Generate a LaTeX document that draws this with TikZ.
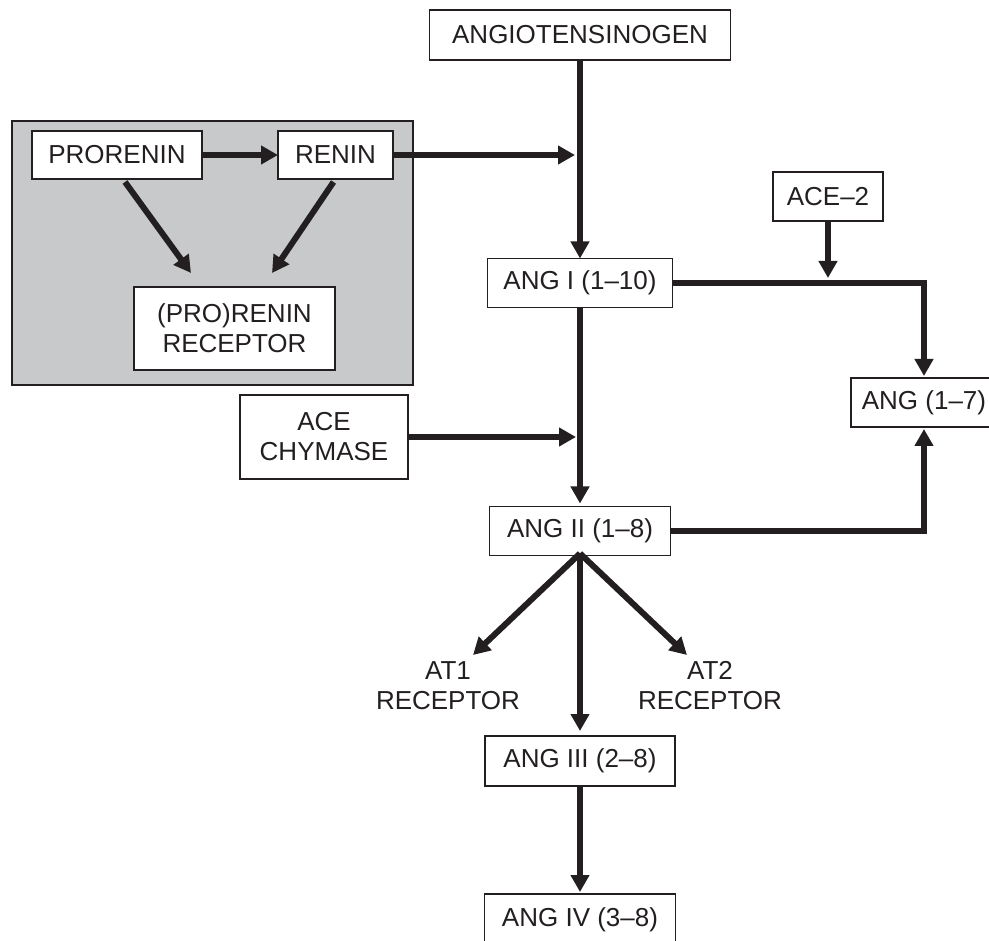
\documentclass[tikz,border=0pt]{standalone}
\usepackage{fontspec}
\setmainfont{Liberation Sans}
\usetikzlibrary{arrows.meta}
\definecolor{ink}{RGB}{35,31,32}
\definecolor{panelgray}{RGB}{200,201,203}
\newcommand\diagfont{\fontsize{26}{30}\selectfont}
\begin{document}
\begin{tikzpicture}[x=1pt,y=-1pt,
  box/.style={draw=ink,line width=1.4pt,fill=white,inner sep=0pt,outer sep=0pt,
    font=\diagfont,text=ink,align=center},
  lbl/.style={inner sep=0pt,outer sep=0pt,font=\diagfont,text=ink,align=center},
  panel/.style={draw=ink,line width=1.8pt,fill=panelgray,inner sep=0pt,outer sep=0pt},
  arr/.style={draw=ink,line width=6pt,-{Triangle[length=17pt,width=18pt]}}
]
\useasboundingbox (0,0) rectangle (989,941);
\clip (0,0) rectangle (989,941);

% grey panel
\node[panel,minimum width=401pt,minimum height=264pt] (grp) at (212.5,253) {};

% nodes
\node[box,minimum width=301pt,minimum height=50pt] (angio) at (580,35) {ANGIOTENSINOGEN};
\node[box,minimum width=170pt,minimum height=48pt] (prorenin) at (117,155) {PRORENIN};
\node[box,minimum width=115pt,minimum height=48pt] (renin) at (335.5,155) {RENIN};
\node[box,minimum width=201pt,minimum height=83pt] (prr) at (234.5,328.5) {(PRO)RENIN\\RECEPTOR};
\node[box,minimum width=185pt,minimum height=49pt] (ang1) at (580,283) {ANG I (1--10)};
\node[box,minimum width=110pt,minimum height=49pt] (ace2) at (828,196.5) {ACE--2};
\node[box,minimum width=146pt,minimum height=49pt] (ang17) at (924,402.5) {ANG (1--7)};
\node[box,minimum width=168pt,minimum height=84pt] (acech) at (324,437) {ACE\\CHYMASE};
\node[box,minimum width=181pt,minimum height=49pt] (ang2) at (580,531) {ANG II (1--8)};
\node[lbl] (at1) at (448,686) {AT1\\RECEPTOR};
\node[lbl] (at2) at (710,686) {AT2\\RECEPTOR};
\node[box,minimum width=190pt,minimum height=50pt] (ang3) at (580,761) {ANG III (2--8)};
\node[box,minimum width=191pt,minimum height=52pt] (ang4) at (580,920) {ANG IV (3--8)};

% junction points on the main pathway
\coordinate (j1) at (575,155);
\coordinate (j2) at (828,278);
\coordinate (j3) at (576,437);
\coordinate (p1) at (191,273);
\coordinate (p2) at (272,273);
\coordinate (t1) at (473,655);
\coordinate (t2) at (687,655);

% connectors
\draw[arr] (angio.south) -- (ang1.north);
\draw[arr] (prorenin.east) -- (renin.west);
\draw[arr] (renin.east) -- (j1);
\draw[arr] ([shift={(8,3)}]prorenin.south) -- (p1);
\draw[arr] ([shift={(-2,3)}]renin.south) -- (p2);
\draw[arr] (ace2.south) -- (j2);
\draw[arr,shorten >=2pt] (ang1.east) -| (ang17.north);
\draw[arr] (acech.east) -- (j3);
\draw[arr,shorten >=3pt] (ang1.south) -- (ang2.north);
\draw[arr,shorten >=2pt] (ang2.east) -| (ang17.south);
\draw[arr] ([yshift=2pt]ang2.south) -- (t1);
\draw[arr] ([yshift=2pt]ang2.south) -- (t2);
\draw[arr,shorten >=5pt] ([yshift=2pt]ang2.south) -- (ang3.north);
\draw[arr,shorten >=2pt] (ang3.south) -- (ang4.north);
\end{tikzpicture}
\end{document}
